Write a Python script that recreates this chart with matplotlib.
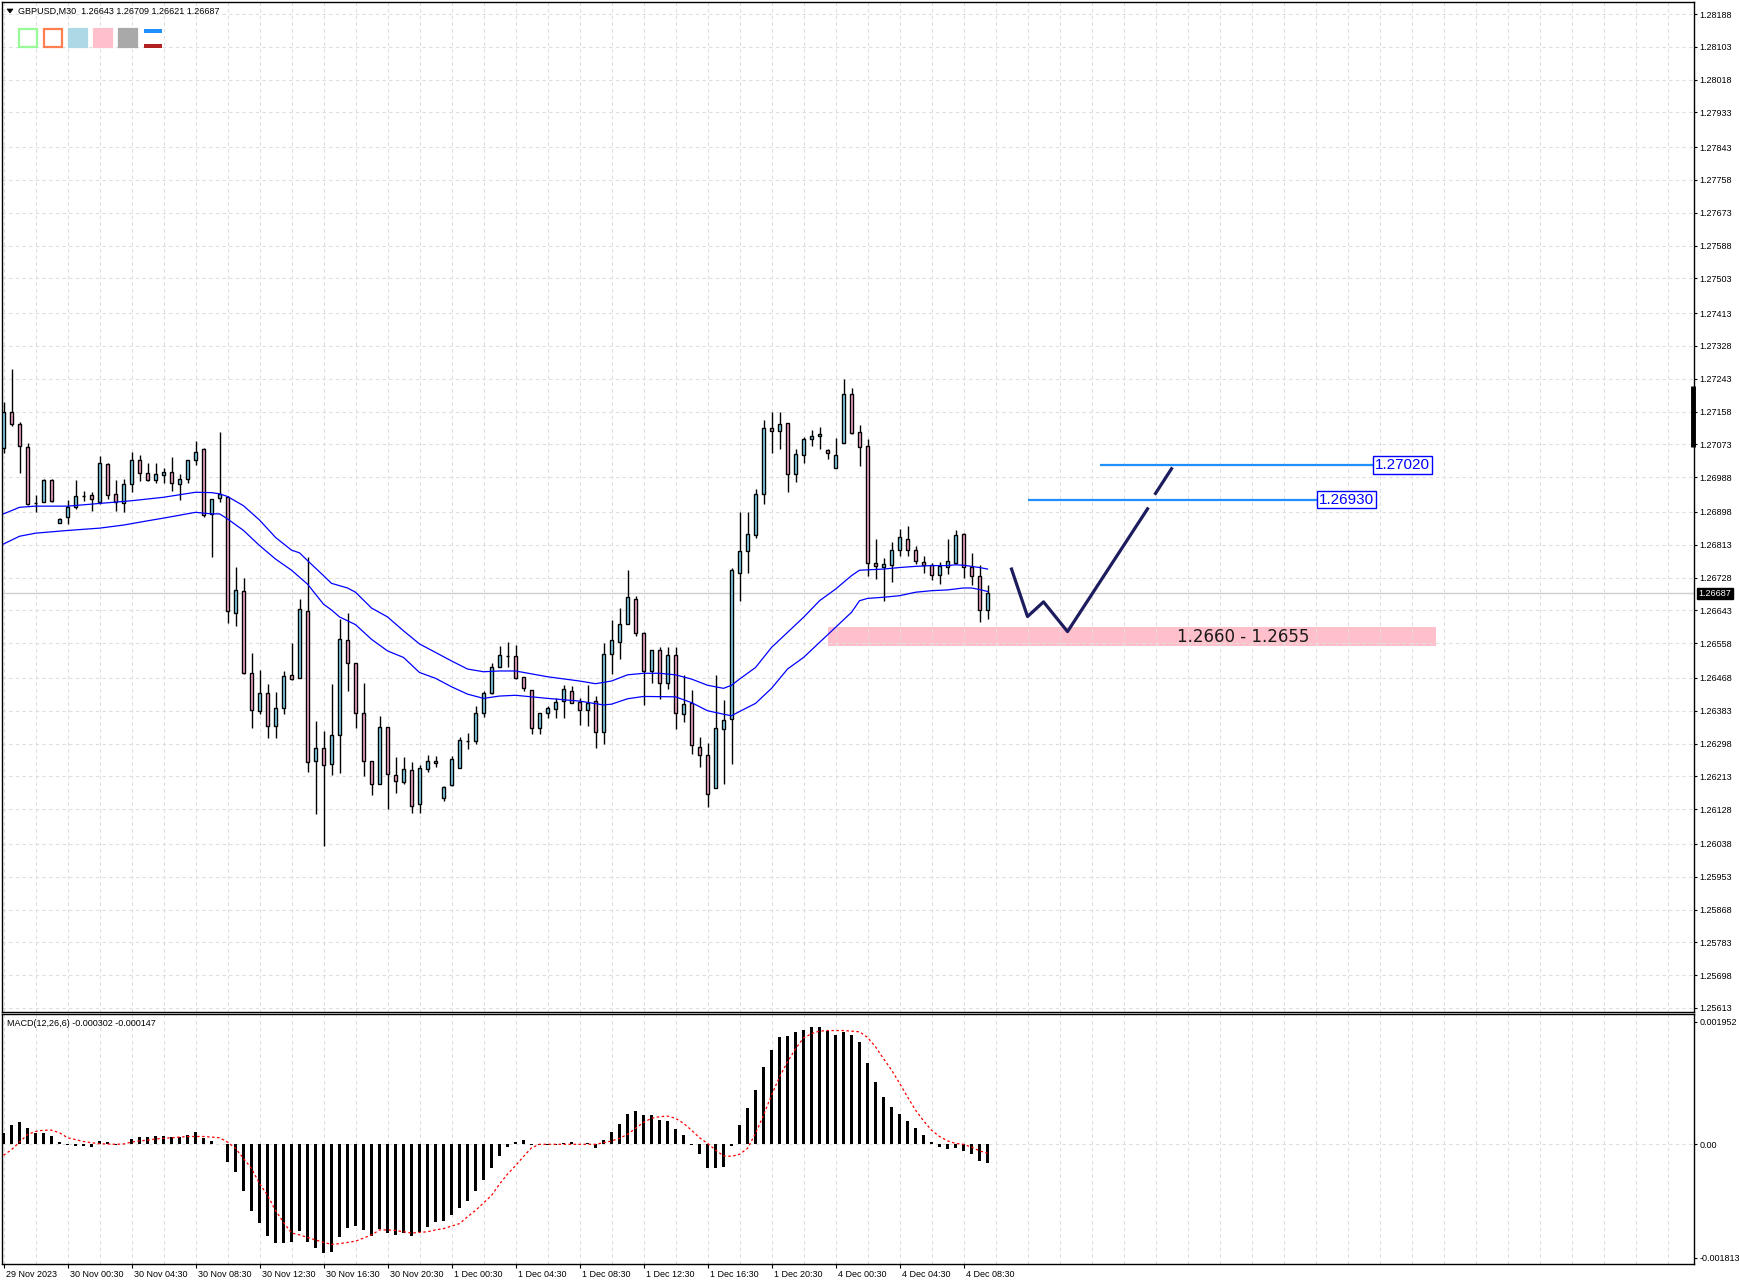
import matplotlib
matplotlib.use("Agg")
import numpy as np
import matplotlib.pyplot as plt
import matplotlib.transforms as mtransforms
from matplotlib.patches import Rectangle, Polygon

plt.rcParams['font.family'] = ['Liberation Sans', 'DejaVu Sans']

# ---- GBPUSD M30 candles (29 Nov 20:30 .. 4 Dec 10:00) ----
opens = [1.27064, 1.27156, 1.27126, 1.27066, 1.26921, 1.26925, 1.26982, 1.26869, 1.26886, 1.26910,
         1.26939, 1.26942, 1.26923, 1.27022, 1.26945, 1.26921, 1.26971, 1.27033, 1.26999, 1.26981,
         1.26994, 1.27002, 1.26971, 1.26984, 1.27033, 1.27060, 1.26893, 1.26934, 1.26938, 1.26636,
         1.26693, 1.26480, 1.26383, 1.26430, 1.26343, 1.26390, 1.26475, 1.26467, 1.26642, 1.26253,
         1.26287, 1.26244, 1.26319, 1.26566, 1.26506, 1.26377, 1.26253, 1.26194, 1.26341, 1.26216,
         1.26199, 1.26230, 1.26141, 1.26231, 1.26253, 1.26156, 1.26191, 1.26234, 1.26305, 1.26305,
         1.26377, 1.26428, 1.26495, 1.26525, 1.26524, 1.26471, 1.26436, 1.26338, 1.26376, 1.26387,
         1.26409, 1.26434, 1.26406, 1.26384, 1.26409, 1.26329, 1.26530, 1.26562, 1.26607, 1.26672,
         1.26584, 1.26485, 1.26540, 1.26456, 1.26527, 1.26374, 1.26402, 1.26290, 1.26268, 1.26182,
         1.26335, 1.26361, 1.26740, 1.26796, 1.26839, 1.26945, 1.27116, 1.27107, 1.27129, 1.26996,
         1.27046, 1.27087, 1.27094, 1.27059, 1.27012, 1.27077, 1.27204, 1.27106, 1.27068, 1.26767,
         1.26756, 1.26760, 1.26799, 1.26828, 1.26799, 1.26768, 1.26760, 1.26735, 1.26756, 1.26766,
         1.26841, 1.26755, 1.26733, 1.26643]
highs = [1.27182, 1.27269, 1.27132, 1.27077, 1.26942, 1.26984, 1.26984, 1.26882, 1.26929, 1.26982,
         1.26953, 1.26949, 1.27044, 1.27026, 1.26982, 1.26984, 1.27052, 1.27046, 1.27026, 1.27026,
         1.27012, 1.27041, 1.26995, 1.27033, 1.27083, 1.27064, 1.26932, 1.27106, 1.26940, 1.26756,
         1.26728, 1.26532, 1.26488, 1.26452, 1.26432, 1.26486, 1.26558, 1.26672, 1.26780, 1.26357,
         1.26331, 1.26452, 1.26620, 1.26635, 1.26506, 1.26454, 1.26253, 1.26370, 1.26341, 1.26263,
         1.26263, 1.26249, 1.26243, 1.26268, 1.26266, 1.26188, 1.26266, 1.26315, 1.26326, 1.26396,
         1.26434, 1.26507, 1.26551, 1.26562, 1.26554, 1.26471, 1.26436, 1.26376, 1.26396, 1.26417,
         1.26449, 1.26447, 1.26417, 1.26449, 1.26420, 1.26558, 1.26619, 1.26648, 1.26748, 1.26681,
         1.26586, 1.26540, 1.26547, 1.26547, 1.26549, 1.26475, 1.26436, 1.26316, 1.26299, 1.26476,
         1.26411, 1.26753, 1.26899, 1.26899, 1.26958, 1.27135, 1.27158, 1.27158, 1.27129, 1.27061,
         1.27092, 1.27109, 1.27119, 1.27061, 1.27090, 1.27243, 1.27220, 1.27122, 1.27086, 1.26828,
         1.26779, 1.26819, 1.26854, 1.26862, 1.26811, 1.26783, 1.26767, 1.26769, 1.26828, 1.26851,
         1.26844, 1.26792, 1.26761, 1.26709]
lows = [1.27050, 1.27120, 1.26998, 1.26917, 1.26897, 1.26923, 1.26923, 1.26869, 1.26866, 1.26906,
        1.26927, 1.26900, 1.26919, 1.26932, 1.26900, 1.26897, 1.26949, 1.26978, 1.26979, 1.26972,
        1.26972, 1.26953, 1.26929, 1.26972, 1.27020, 1.26884, 1.26780, 1.26923, 1.26609, 1.26603,
        1.26478, 1.26339, 1.26374, 1.26312, 1.26312, 1.26374, 1.26462, 1.26467, 1.26223, 1.26115,
        1.26032, 1.26216, 1.26221, 1.26433, 1.26339, 1.26214, 1.26164, 1.26192, 1.26128, 1.26169,
        1.26194, 1.26117, 1.26119, 1.26223, 1.26236, 1.26149, 1.26188, 1.26234, 1.26285, 1.26298,
        1.26367, 1.26426, 1.26495, 1.26495, 1.26465, 1.26434, 1.26324, 1.26324, 1.26365, 1.26363,
        1.26365, 1.26404, 1.26345, 1.26344, 1.26286, 1.26298, 1.26478, 1.26517, 1.26607, 1.26576,
        1.26398, 1.26456, 1.26413, 1.26439, 1.26335, 1.26355, 1.26272, 1.26236, 1.26134, 1.26182,
        1.26194, 1.26244, 1.26668, 1.26740, 1.26830, 1.26919, 1.27050, 1.27061, 1.26949, 1.26975,
        1.27024, 1.27068, 1.27061, 1.27035, 1.27012, 1.27077, 1.27100, 1.27018, 1.26733, 1.26724,
        1.26668, 1.26716, 1.26785, 1.26785, 1.26763, 1.26741, 1.26722, 1.26711, 1.26737, 1.26763,
        1.26727, 1.26709, 1.26612, 1.26621]
closes = [1.27156, 1.27126, 1.27068, 1.26919, 1.26921, 1.26982, 1.26926, 1.26880, 1.26912, 1.26939,
          1.26940, 1.26931, 1.27025, 1.26942, 1.26923, 1.26971, 1.27033, 1.26999, 1.26981, 1.26996,
          1.27002, 1.26973, 1.26984, 1.27033, 1.27054, 1.26891, 1.26932, 1.26944, 1.26642, 1.26696,
          1.26482, 1.26384, 1.26430, 1.26343, 1.26390, 1.26473, 1.26465, 1.26646, 1.26250, 1.26286,
          1.26242, 1.26319, 1.26568, 1.26506, 1.26377, 1.26253, 1.26192, 1.26341, 1.26218, 1.26201,
          1.26231, 1.26136, 1.26234, 1.26253, 1.26247, 1.26186, 1.26257, 1.26306, 1.26305, 1.26377,
          1.26428, 1.26497, 1.26527, 1.26526, 1.26469, 1.26443, 1.26338, 1.26376, 1.26391, 1.26406,
          1.26439, 1.26404, 1.26384, 1.26404, 1.26329, 1.26530, 1.26566, 1.26607, 1.26678, 1.26584,
          1.26485, 1.26540, 1.26456, 1.26527, 1.26376, 1.26400, 1.26294, 1.26268, 1.26166, 1.26338,
          1.26358, 1.26747, 1.26796, 1.26841, 1.26945, 1.27116, 1.27107, 1.27126, 1.26996, 1.27048,
          1.27087, 1.27094, 1.27100, 1.27051, 1.27046, 1.27204, 1.27103, 1.27067, 1.26767, 1.26759,
          1.26763, 1.26799, 1.26832, 1.26799, 1.26770, 1.26760, 1.26735, 1.26759, 1.26772, 1.26837,
          1.26755, 1.26733, 1.26643, 1.26687]

# two blue moving averages at these bars
ma_up_bars = [0, 2, 4, 8, 12, 16, 20, 24, 26, 27, 28, 30, 32, 34, 36, 37, 38, 40, 41, 43, 44, 46, 48,
              50, 52, 54, 56, 58, 60, 62, 64, 68, 72, 74, 76, 78, 80, 82, 84, 86, 88, 90, 91, 92, 94,
              96, 98, 100, 102, 104, 106, 107, 108, 110, 112, 114, 116, 118, 119, 120, 122, 123]
ma_up_vals = [1.26893, 1.26910, 1.26913, 1.26913, 1.26920, 1.26927, 1.26936, 1.26949, 1.26948, 1.26945,
              1.26938, 1.26914, 1.26877, 1.26832, 1.26799, 1.26792, 1.26772, 1.26733, 1.26713, 1.26701,
              1.26690, 1.26649, 1.26626, 1.26590, 1.26556, 1.26534, 1.26512, 1.26491, 1.26484, 1.26486,
              1.26486, 1.26471, 1.26460, 1.26453, 1.26460, 1.26476, 1.26480, 1.26480, 1.26476, 1.26465,
              1.26449, 1.26441, 1.26449, 1.26465, 1.26495, 1.26547, 1.26586, 1.26625, 1.26668, 1.26698,
              1.26733, 1.26747, 1.26748, 1.26750, 1.26754, 1.26757, 1.26759, 1.26759, 1.26761, 1.26760,
              1.26754, 1.26750]
ma_lo_bars = [0, 2, 4, 8, 12, 15, 18, 20, 24, 26, 27, 28, 30, 32, 34, 36, 38, 40, 41, 42, 44, 46, 48,
              50, 52, 54, 56, 58, 60, 62, 64, 68, 72, 75, 76, 78, 80, 84, 86, 88, 90, 91, 92, 94, 96,
              98, 100, 102, 104, 106, 107, 108, 110, 112, 114, 116, 118, 120, 121, 122, 123]
ma_lo_vals = [1.26815, 1.26835, 1.26843, 1.26850, 1.26856, 1.26864, 1.26875, 1.26882, 1.26897, 1.26893,
              1.26893, 1.26880, 1.26850, 1.26811, 1.26776, 1.26747, 1.26711, 1.26659, 1.26644, 1.26626,
              1.26606, 1.26568, 1.26538, 1.26521, 1.26482, 1.26467, 1.26445, 1.26426, 1.26415, 1.26421,
              1.26423, 1.26415, 1.26408, 1.26398, 1.26400, 1.26414, 1.26420, 1.26419, 1.26404, 1.26383,
              1.26374, 1.26370, 1.26381, 1.26402, 1.26441, 1.26491, 1.26521, 1.26560, 1.26599, 1.26638,
              1.26668, 1.26674, 1.26677, 1.26681, 1.26690, 1.26694, 1.26696, 1.26701, 1.26701, 1.26697,
              1.26692]

# MACD(12,26,6)
macd_hist = [0.000175, 0.000297, 0.000345, 0.000249, 0.000175, 0.000170, 0.000122, 0.000032, -0.000011, -0.000027,
             -0.000027, -0.000048, 0.000048, 0.000027, -0.000011, 0.000005, 0.000074, 0.000106, 0.000106, 0.000127,
             0.000127, 0.000111, 0.000111, 0.000143, 0.000186, 0.000095, 0.000048, 0.000005, -0.000292, -0.000451,
             -0.000747, -0.001065, -0.001256, -0.001468, -0.001574, -0.001574, -0.001558, -0.001383, -0.001558, -0.001654,
             -0.001733, -0.001717, -0.001479, -0.001336, -0.001309, -0.001373, -0.001463, -0.001362, -0.001415, -0.001447,
             -0.001415, -0.001463, -0.001405, -0.001320, -0.001240, -0.001224, -0.001129, -0.001018, -0.000912, -0.000753,
             -0.000578, -0.000382, -0.000191, -0.000042, 0.000032, 0.000058, -0.000011, -0.000016, -0.000021, -0.000021,
             0.000016, 0.000027, -0.000005, 0.000011, -0.000058, 0.000064, 0.000191, 0.000318, 0.000477, 0.000525,
             0.000461, 0.000461, 0.000382, 0.000366, 0.000239, 0.000143, -0.000021, -0.000164, -0.000376, -0.000376,
             -0.000360, -0.000027, 0.000302, 0.000572, 0.000859, 0.001224, 0.001495, 0.001701, 0.001728, 0.001781,
             0.001823, 0.001860, 0.001860, 0.001802, 0.001733, 0.001781, 0.001733, 0.001622, 0.001288, 0.000986,
             0.000753, 0.000594, 0.000477, 0.000366, 0.000254, 0.000143, 0.000032, -0.000042, -0.000074, -0.000058,
             -0.000106, -0.000154, -0.000265, -0.000302]
macd_signal = [-0.00018, -0.00009, 0.00003, 0.00015, 0.00020, 0.00022, 0.00022, 0.00018, 0.00010, 0.00007,
               0.00004, 0.00002, 0.000005, 0.0, -0.000005, 0.0, 0.00003, 0.00005, 0.00006, 0.00008,
               0.00009, 0.00010, 0.00011, 0.00012, 0.00012, 0.00012, 0.00011, 0.00010, 0.00003, -0.00007,
               -0.00023, -0.00039, -0.00063, -0.00082, -0.00106, -0.00125, -0.00142, -0.00145, -0.00149, -0.00153,
               -0.00157, -0.00160, -0.00159, -0.00157, -0.00155, -0.00150, -0.00145, -0.00137, -0.00137, -0.00138,
               -0.00140, -0.00142, -0.00141, -0.00140, -0.00137, -0.00135, -0.00131, -0.00127, -0.00116, -0.00106,
               -0.00094, -0.00082, -0.00064, -0.00048, -0.000345, -0.00020, -0.00006, -0.000005, -0.000005, -0.000005,
               -0.000005, -0.000005, -0.000005, -0.000005, -0.000005, 0.00002, 0.00005, 0.00009, 0.000154, 0.00025,
               0.000345, 0.00041, 0.000435, 0.000445, 0.00041, 0.00033, 0.00022, 0.00010, 0.00001, -0.000095,
               -0.00019, -0.000196, -0.000164, -0.00007, 0.00017, 0.00046, 0.00078, 0.00107, 0.00131, 0.00152,
               0.00169, 0.00176, 0.00180, 0.00181, 0.00181, 0.00181, 0.00180, 0.00179, 0.00170, 0.00155,
               0.00136, 0.00118, 0.00097, 0.00075, 0.00054, 0.00037, 0.00022, 0.00012, 0.00005, 0.00001,
               -0.000005, -0.00005, -0.00011, -0.000147]

price_ticks = [1.28188, 1.28103, 1.28018, 1.27933, 1.27843, 1.27758, 1.27673, 1.27588, 1.27503, 1.27413,
               1.27328, 1.27243, 1.27158, 1.27073, 1.26988, 1.26898, 1.26813, 1.26728, 1.26643, 1.26558,
               1.26468, 1.26383, 1.26298, 1.26213, 1.26128, 1.26038, 1.25953, 1.25868, 1.25783, 1.25698,
               1.25613]
macd_ticks = [0.001952, 0.0, -0.001813]
macd_tick_labels = ['0.001952', '0.00', '-0.001813']
time_labels = ['29 Nov 2023', '30 Nov 00:30', '30 Nov 04:30', '30 Nov 08:30', '30 Nov 12:30',
               '30 Nov 16:30', '30 Nov 20:30', '1 Dec 00:30', '1 Dec 04:30', '1 Dec 08:30',
               '1 Dec 12:30', '1 Dec 16:30', '1 Dec 20:30', '4 Dec 00:30', '4 Dec 04:30', '4 Dec 08:30']

last_price = 1.26687
zone_lo, zone_hi = 1.2655, 1.2660
zone_bars = (103, 179)
levels = [1.27020, 1.26930]
level_bars = [(137, 171.2), (128.1, 164.2)]
path1_bars = [126, 128, 130, 133, 143]
path1_prices = [1.26750, 1.26627, 1.26665, 1.26588, 1.26906]
path2_bars = [144, 146]
path2_prices = [1.26946, 1.27010]

W, H = 1740, 1285
fig = plt.figure(figsize=(W / 100, H / 100), dpi=100)


def fbox(x0, y0, x1, y1):
    return [x0 / W, 1 - y1 / H, (x1 - x0) / W, (y1 - y0) / H]


def fpt(x, y):
    return (x / W, 1 - y / H)


ax = fig.add_axes(fbox(2, 2, 1694.5, 1012))
axm = fig.add_axes(fbox(2, 1014, 1694.5, 1264))

xmin, xmax = -0.19, 211.37
grid_kw = dict(color='#dedede', linestyle=(0, (3, 3)), linewidth=0.8)
small = 6.5

# ---- price panel ----
ax.set_xlim(xmin, xmax)
ax.set_ylim(1.256025, 1.282191)
ax.set_axisbelow(True)
ax.set_xticks(np.arange(0, 212, 4))
ax.tick_params(axis='x', length=0, labelbottom=False)
ax.yaxis.tick_right()
ax.set_yticks(price_ticks)
ax.set_yticklabels([f'{v:.5f}' for v in price_ticks])
ax.tick_params(axis='y', length=2.5, width=0.8, labelsize=small, pad=1)
ax.grid(True, **grid_kw)
for s in ax.spines.values():
    s.set_linewidth(1.0)

ax.axhline(last_price, color='#cfcfcf', lw=1.0, zorder=0.6)
ax.add_patch(Rectangle((zone_bars[0], zone_lo), zone_bars[1] - zone_bars[0], zone_hi - zone_lo,
                       facecolor='#ffc0cb', edgecolor='none', zorder=0.3))

x = np.arange(len(opens))
o = np.array(opens)
c = np.array(closes)
bull = c >= o
ax.vlines(x, lows, highs, color='black', lw=1.0, zorder=2)
ax.bar(x, np.abs(c - o), width=0.42, bottom=np.minimum(o, c),
       color=np.where(bull, '#87d8f5', '#f7a8cc'), edgecolor='black', linewidth=1.0, zorder=3)

ax.plot(ma_up_bars, ma_up_vals, color='#0000ff', lw=0.9, zorder=4)
ax.plot(ma_lo_bars, ma_lo_vals, color='#0000ff', lw=0.9, zorder=4)

ax.text((zone_bars[0] + zone_bars[1]) / 2 + 14, (zone_lo + zone_hi) / 2, '1.2660 - 1.2655',
        ha='center', va='center', fontsize=12, family='DejaVu Sans', color='#1a1a1a', zorder=5)

for lv, (b0, b1) in zip(levels, level_bars):
    ax.hlines(lv, b0, b1, color='#1e90ff', lw=1.6, zorder=4)
    ax.text(b1 + 0.25, lv, f'{lv:.5f}', ha='left', va='center', fontsize=11, color='#0000ff',
            bbox=dict(boxstyle='square,pad=0.12', fc='white', ec='#0000ff', lw=1.0), zorder=5)

ax.plot(path1_bars, path1_prices, color='#1c1c5e', lw=2.3, zorder=5)
ax.plot(path2_bars, path2_prices, color='#1c1c5e', lw=2.3, zorder=5)

tr = mtransforms.blended_transform_factory(ax.transAxes, ax.transData)
ax.text(1.0 + 4 / 1692.5, last_price, f'{last_price:.5f}', transform=tr, ha='left', va='center',
        fontsize=small, color='white',
        bbox=dict(boxstyle='square,pad=0.15', fc='black', ec='black'), zorder=6, clip_on=False)
ax.plot([1 - 1 / 1692.5, 1 - 1 / 1692.5], [1.27225, 1.27066], transform=tr, color='black',
        lw=3.5, solid_capstyle='butt', clip_on=False, zorder=6)

# ---- MACD panel ----
axm.set_xlim(xmin, xmax)
axm.set_ylim(-0.001914, 0.0020735)
axm.set_axisbelow(True)
axm.set_xticks(np.arange(0, 8 * len(time_labels), 8))
axm.set_xticklabels(time_labels)
axm.set_xticks(np.arange(0, 212, 4), minor=True)
axm.tick_params(axis='x', which='major', length=3, width=0.8, labelsize=small, pad=1)
axm.tick_params(axis='x', which='minor', length=0)
offset = mtransforms.ScaledTranslation(2 / 100, 0, fig.dpi_scale_trans)
for lbl in axm.get_xticklabels():
    lbl.set_horizontalalignment('left')
    lbl.set_transform(lbl.get_transform() + offset)
axm.grid(True, axis='x', which='both', **grid_kw)
axm.axhline(0, zorder=0.5, **grid_kw)
axm.yaxis.tick_right()
axm.set_yticks(macd_ticks)
axm.set_yticklabels(macd_tick_labels)
axm.tick_params(axis='y', length=2.5, width=0.8, labelsize=small, pad=1)
for s in axm.spines.values():
    s.set_linewidth(1.0)

axm.bar(x, macd_hist, width=0.4, color='black', zorder=2)
axm.plot(x, macd_signal, color='#ff0000', lw=0.9, linestyle=(0, (2, 2)), zorder=3)

# ---- header, object icons, MACD caption ----
fig.patches.append(Polygon([fpt(7, 9), fpt(13, 9), fpt(10, 13)], closed=True, transform=fig.transFigure,
                           facecolor='black', edgecolor='black', lw=0.5))
fig.text(*fpt(18, 11), 'GBPUSD,M30  1.26643 1.26709 1.26621 1.26687', fontsize=small,
         ha='left', va='center')
fig.text(*fpt(7, 1024), 'MACD(12,26,6) -0.000302 -0.000147', fontsize=small, ha='left', va='center')

icons = [(19, 'none', '#98fb98'), (44, 'none', '#ff7f50'), (69, '#add8e6', '#add8e6'),
         (94, '#ffc0cb', '#ffc0cb'), (119, '#a9a9a9', '#a9a9a9')]
for x0, fc, ec in icons:
    fig.patches.append(Rectangle(fpt(x0, 47), 18 / W, 18 / H, transform=fig.transFigure,
                                 facecolor=fc, edgecolor=ec, lw=1.6))
fig.patches.append(Rectangle(fpt(144, 33), 18 / W, 4 / H, transform=fig.transFigure,
                             facecolor='#1e90ff', edgecolor='none'))
fig.patches.append(Rectangle(fpt(144, 48), 18 / W, 4 / H, transform=fig.transFigure,
                             facecolor='#b22222', edgecolor='none'))

fig.savefig('out.png', dpi=100, facecolor='white')
